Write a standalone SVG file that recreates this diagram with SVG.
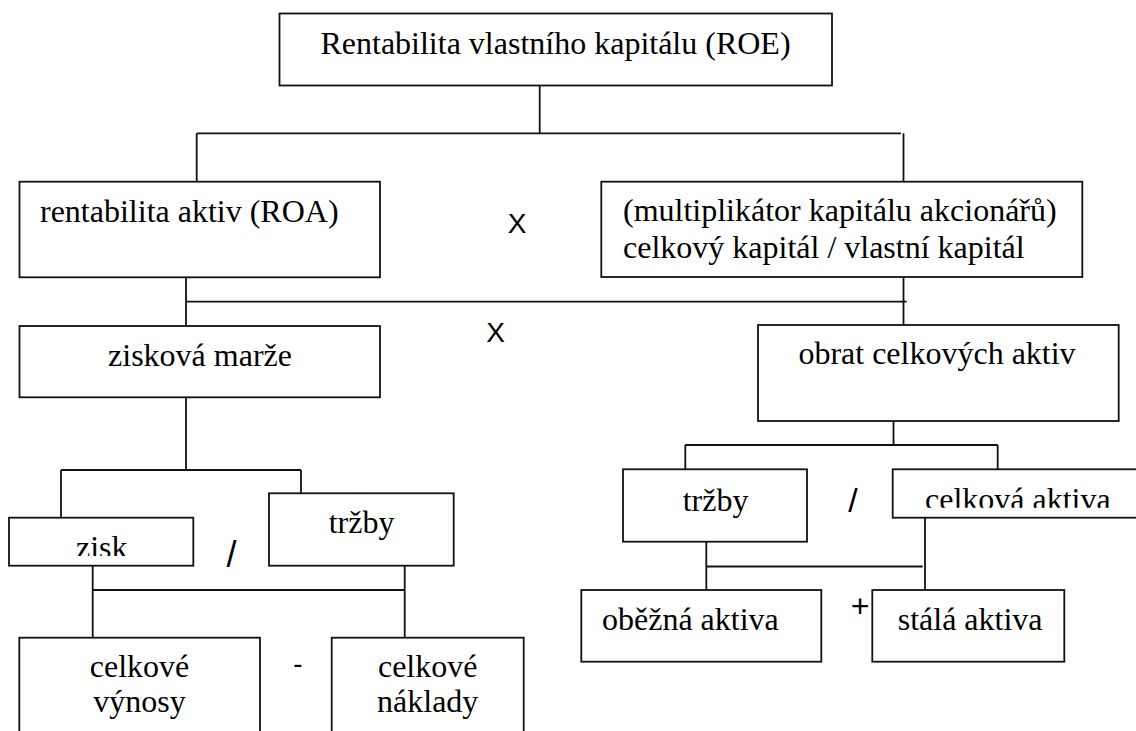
<svg xmlns="http://www.w3.org/2000/svg" width="1136" height="731" viewBox="0 0 1136 731">
  <style>
    .box { fill: #ffffff; stroke: #111111; stroke-width: 1.8; }
    .lbl { font-family: "Liberation Serif", "Times New Roman", "DejaVu Serif", serif; font-size: 32px; fill: #000000; }
    .mid { text-anchor: middle; }
    .op { font-family: "Liberation Sans", Arial, sans-serif; fill: #000000; text-anchor: middle; }
    .conn line { stroke: #111111; stroke-width: 1.8; }
  </style>
  <defs>
    <clipPath id="clipZisk"><rect x="0" y="500" width="200" height="56"/></clipPath>
    <clipPath id="clipCelkAkt"><rect x="880" y="460" width="260" height="47.7"/></clipPath>
  </defs>
  <rect x="0" y="0" width="1136" height="731" fill="#ffffff"/>

  <g id="connectors" class="conn">
    <line x1="539.7" y1="85.5" x2="539.7" y2="133.3"/>
    <line x1="196.7" y1="133.3" x2="901" y2="133.3"/>
    <line x1="196.7" y1="133.3" x2="196.7" y2="181.7"/>
    <line x1="903.5" y1="133.3" x2="903.5" y2="181.7"/>
    <line x1="186" y1="277.3" x2="186" y2="326"/>
    <line x1="186" y1="301.7" x2="906.7" y2="301.7"/>
    <line x1="903.5" y1="277.3" x2="903.5" y2="325"/>
    <line x1="186" y1="397.3" x2="186" y2="470"/>
    <line x1="61" y1="470" x2="301" y2="470"/>
    <line x1="61" y1="470" x2="61" y2="517.7"/>
    <line x1="301" y1="470" x2="301" y2="493.3"/>
    <line x1="92.7" y1="565.7" x2="92.7" y2="637.7"/>
    <line x1="92.7" y1="590" x2="404.7" y2="590"/>
    <line x1="404.7" y1="565.7" x2="404.7" y2="637.7"/>
    <line x1="893.5" y1="421" x2="893.5" y2="445"/>
    <line x1="685.3" y1="445" x2="997.7" y2="445"/>
    <line x1="685.3" y1="445" x2="685.3" y2="469.3"/>
    <line x1="997.7" y1="445" x2="997.7" y2="469.3"/>
    <line x1="706.3" y1="541.7" x2="706.3" y2="590"/>
    <line x1="706.3" y1="566.5" x2="922.7" y2="566.5"/>
    <line x1="925" y1="517.7" x2="925" y2="590"/>
  </g>

  <g id="node-roe">
    <rect class="box" x="279.5" y="13.5" width="552.5" height="72"/>
    <text class="lbl mid" x="555.5" y="54">Rentabilita vlastního kapitálu (ROE)</text>
  </g>

  <g id="node-roa">
    <rect class="box" x="19.5" y="181.7" width="360.5" height="95.6"/>
    <text class="lbl" x="40" y="222">rentabilita aktiv (ROA)</text>
  </g>

  <g id="node-multiplikator">
    <rect class="box" x="601.3" y="181.7" width="481" height="95.3"/>
    <text class="lbl" x="623" y="221">(multiplikátor kapitálu akcionářů)</text>
    <text class="lbl" x="623" y="258">celkový kapitál / vlastní kapitál</text>
  </g>

  <g id="node-ziskova-marze">
    <rect class="box" x="19.5" y="326" width="360.5" height="71.3"/>
    <text class="lbl mid" x="200" y="366">zisková marže</text>
  </g>

  <g id="node-obrat">
    <rect class="box" x="758" y="325" width="360.7" height="96"/>
    <text class="lbl mid" x="937" y="364">obrat celkových aktiv</text>
  </g>

  <g id="node-zisk">
    <rect class="box" x="9" y="517.7" width="184.3" height="48"/>
    <text class="lbl" x="76" y="557.5" clip-path="url(#clipZisk)">zisk</text>
  </g>

  <g id="node-trzby-left">
    <rect class="box" x="269" y="493.3" width="184.7" height="72.4"/>
    <text class="lbl mid" x="361.5" y="533.3">tržby</text>
  </g>

  <g id="node-celkove-vynosy">
    <rect class="box" x="19.3" y="637.7" width="240.7" height="110"/>
    <text class="lbl mid" x="139.5" y="676.7">celkové</text>
    <text class="lbl mid" x="139.5" y="711.7">výnosy</text>
  </g>

  <g id="node-celkove-naklady">
    <rect class="box" x="331.7" y="637.7" width="192" height="110"/>
    <text class="lbl mid" x="427.7" y="676.7">celkové</text>
    <text class="lbl mid" x="427.7" y="711.7">náklady</text>
  </g>

  <g id="node-trzby-right">
    <rect class="box" x="623" y="469.3" width="184" height="72.4"/>
    <text class="lbl mid" x="715.5" y="510.7">tržby</text>
  </g>

  <g id="node-celkova-aktiva">
    <rect class="box" x="892.7" y="469.3" width="260" height="48.4"/>
    <text class="lbl" x="925" y="509.5" clip-path="url(#clipCelkAkt)">celková aktiva</text>
  </g>

  <g id="node-obezna-aktiva">
    <rect class="box" x="581.3" y="590" width="240" height="71.7"/>
    <text class="lbl" x="602" y="630">oběžná aktiva</text>
  </g>

  <g id="node-stala-aktiva">
    <rect class="box" x="872.3" y="590" width="192" height="71.7"/>
    <text class="lbl" x="897.7" y="630">stálá aktiva</text>
  </g>

  <g id="operators">
    <text class="op" x="517" y="233.3" font-size="28">X</text>
    <text class="op" x="495.5" y="342" font-size="28">X</text>
    <text class="op" x="231.5" y="566.5" font-size="36">/</text>
    <text class="op" x="853" y="511.5" font-size="34">/</text>
    <text class="op" x="298" y="673" font-size="28">-</text>
    <text class="op" x="860" y="617" font-size="32">+</text>
  </g>
</svg>
